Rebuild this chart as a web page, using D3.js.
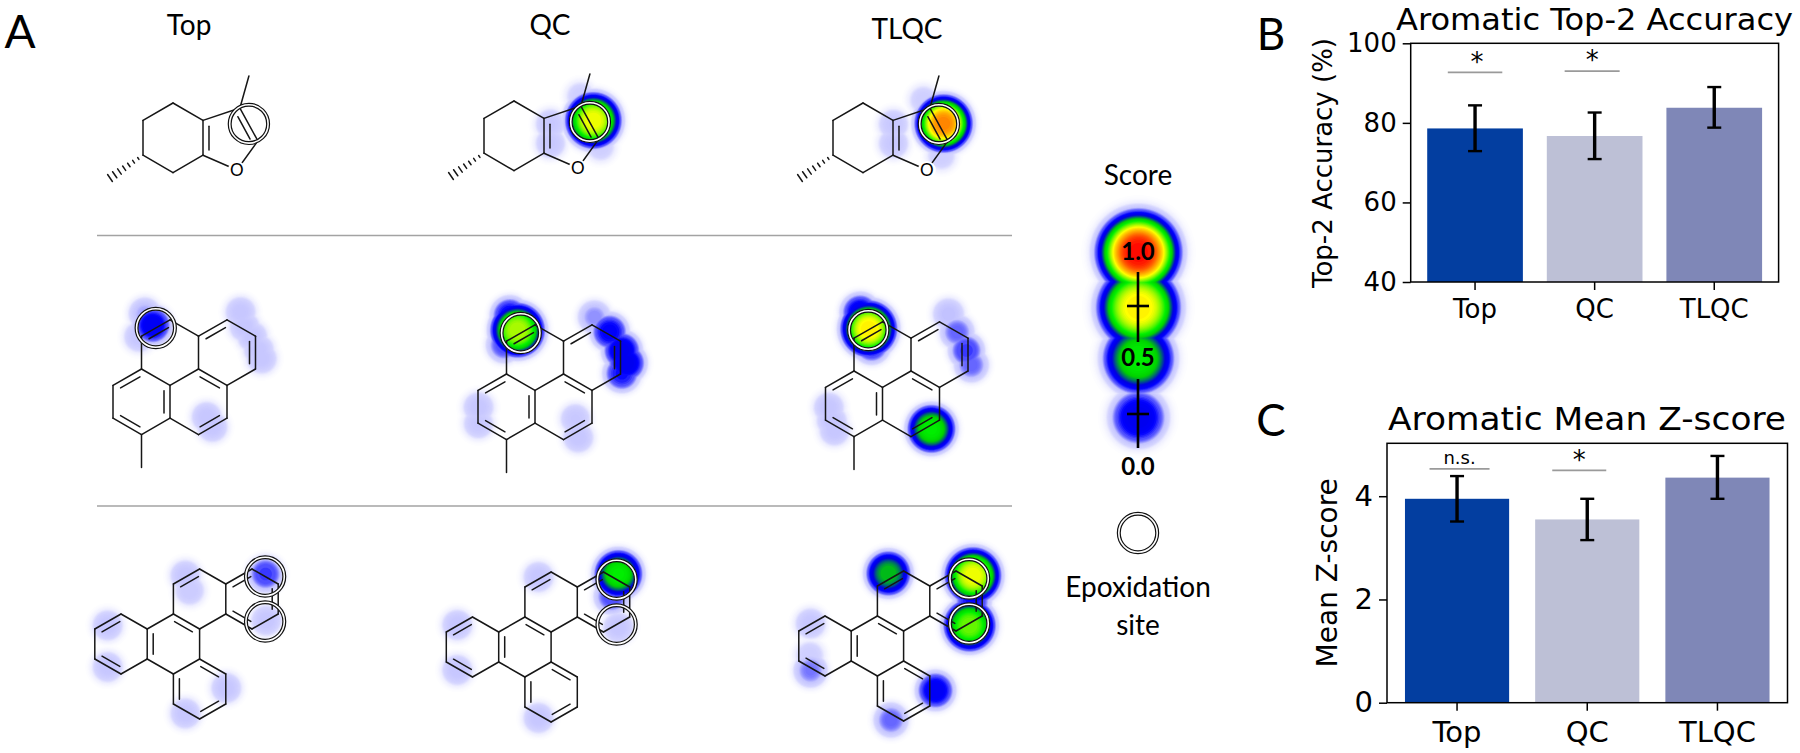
<!DOCTYPE html>
<html>
<head>
<meta charset="utf-8">
<script src="https://cdn.jsdelivr.net/npm/d3@7"></script>
<style>
  html, body { margin: 0; background: #fff; }
  svg { display: block; }
  .serif-free { font-family: Lato, "Open Sans", sans-serif; fill: #000; }
  .plot text { font-family: "DejaVu Sans", sans-serif; fill: #000; }
  .bond { stroke: #161616; stroke-width: 1.5; fill: none; stroke-linecap: round; }
</style>
</head>
<body>
<div id="chart"></div>
<script>
// bar chart values
var categories = ["Top", "QC", "TLQC"];
var accMean = [78.6, 76.7, 83.8];
var accLow = [72.9, 70.9, 78.8];
var accHigh = [84.4, 82.6, 89.0];
var accSig = [92.7, 93.0];
var zMean = [3.95, 3.55, 4.36];
var zLow = [3.51, 3.15, 3.95];
var zHigh = [4.39, 3.95, 4.78];
var zSig = [4.53, 4.50];
var accTicks = [40, 60, 80, 100];
var zTicks = [0, 2, 4];

// score legend
var legendScores = [1.0, 0.75, 0.5, 0.25];
var legendLabels = ["1.0", "0.5", "0.0"];

// molecules, in lattice units: [x1, y1, x2, y2]
var mol1Bonds = [[0,0,1,1],[1,1,1,3],[1,3,0,4],[0,4,-1,3],[-1,3,-1,1],[-1,1,0,0],
  [1,1,2.23,0.29],[2.23,0.29,2.83,2.18],[2.83,2.18,2.13,3.85],[2.13,3.85,1,3],[2.23,0.29,2.53,-1.55]];
var mol1Doubles = [[1,1,1,3,1.84,2.06],[2.23,0.29,2.83,2.18,1.84,2.06]];
var mol1Hash = [[-1,3,-2.1,4.31]];
var mol1Oxygen = [[2.13,3.85]];
var mol1Sites = [[2.53,1.2]];

var mol2Bonds = [[0,0,-1,1],[-1,1,-1,3],[-1,3,0,4],[0,4,1,3],[1,3,1,1],[1,1,0,0],
  [1,1,2,0],[2,0,3,1],[3,1,3,3],[3,3,2,4],[2,4,1,3],
  [0,0,0,-2],[0,-2,1,-3],[1,-3,2,-2],[2,-2,2,0],
  [2,-2,3,-3],[3,-3,4,-2],[4,-2,4,0],[4,0,3,1],[0,4,0,6]];
var mol2Doubles = [[0,0,-1,1,0,2],[-1,3,0,4,0,2],[1,3,1,1,0,2],[2,0,3,1,2,2],[3,3,2,4,2,2],
  [2,-2,3,-3,3,-1],[4,-2,4,0,3,-1],[0,-2,1,-3,1,-1]];
var mol2Sites = [[0.5,-2.5]];

var mol3Bonds = [[0,0,-1,1],[-1,1,-1,3],[-1,3,0,4],[0,4,1,3],[1,3,1,1],[1,1,0,0],
  [1,1,2,0],[2,0,3,1],[3,1,3,3],[3,3,2,4],[2,4,1,3],
  [3,3,4,4],[4,4,4,6],[4,6,3,7],[3,7,2,6],[2,6,2,4],
  [2,0,2,-2],[2,-2,3,-3],[3,-3,4,-2],[4,-2,4,0],[4,0,3,1],
  [4,-2,5,-3],[5,-3,6,-2],[6,-2,6,0],[6,0,5,1],[5,1,4,0]];
var mol3Doubles = [[0,0,-1,1,0,2],[-1,3,0,4,0,2],[1,1,1,3,2,2],[2,0,3,1,2,2],[2,-2,3,-3,3,-1],
  [4,-2,5,-3,5,-1],[6,-2,6,0,5,-1],[5,1,4,0,5,-1],[3,3,4,4,3,5],[4,6,3,7,3,5],[2,6,2,4,3,5]];
var mol3Sites = [[5.5,-2.5],[5.5,0.5]];

// heat spots: [x, y, score] in the same lattice units
var heat1Top = [];
var heat1QC = [[2.63,1.09,0.72],[1.2,1.3,0.085],[1.2,2.4,0.085],[2.87,2.6,0.07],[2.2,-0.3,0.07]];
var heat1TLQC = [[2.67,1.15,0.88],[1,1.2,0.085],[1,2.3,0.085],[2.6,3,0.07],[2,-0.2,0.07]];
var heat2Top = [[0.37,-2.7,0.24],[0.1,-3.4,0.11],[-0.1,-2,0.09],
  [3.46,-3.5,0.09],[3.6,-2.6,0.09],[3.87,-2,0.09],[4.1,-1.2,0.09],[4.2,-0.67,0.09],[2.47,3.5,0.09],[2.27,2.9,0.09]];
var heat2QC = [[0.37,-2.7,0.66],[0.1,-3.6,0.22],[-0.1,-1.8,0.16],
  [4.03,-1.46,0.25],[3.6,-2.6,0.22],[3.07,-3.5,0.12],[4.2,-0.7,0.25],[4.03,-0.06,0.2],
  [-1,2,0.09],[-1,3,0.085],[2.5,3.84,0.09],[2.4,2.7,0.085]];
var heat2TLQC = [[0.5,-2.6,0.75],[0.2,-3.6,0.24],[0.6,-1.6,0.2],
  [3.93,-1.28,0.17],[3.6,-2.4,0.14],[3.3,-3.5,0.1],[4.1,-0.4,0.14],
  [-0.9,2.2,0.09],[-0.8,3,0.09],[-0.7,3.6,0.09],[2.7,3.5,0.5]];
var heat3Top = [[5.5,-2.7,0.17],[5.53,0.4,0.09],[2.44,-2.6,0.09],[2.6,-1.6,0.08],
  [-0.53,0.73,0.09],[-0.53,3.5,0.09],[4,4.9,0.09],[2.44,6.6,0.09]];
var heat3QC = [[5.55,-2.9,0.5],[5.3,-1.4,0.16],[5.55,0.67,0.09],[2.5,-2.7,0.09],
  [-0.6,0.5,0.09],[-0.6,3.5,0.09],[2.5,6.7,0.09]];
var heat3TLQC = [[5.63,-2.73,0.72],[5.5,0.6,0.6],[5.6,-1,0.2],[2.4,-2.87,0.42],[-0.57,0.47,0.09],
  [-0.57,3.6,0.13],[4.2,4.93,0.24],[2.5,6.9,0.14],[-0.6,2.6,0.07]];

var svgWidth = 1800;
var svgHeight = 753;

var svg = d3.select("#chart")
  .append("svg")
  .attr("width", svgWidth)
  .attr("height", svgHeight);

var heatColor = d3.scaleLinear()
  .domain([0, 0.03, 0.05, 0.095, 0.13, 0.2, 0.28, 0.42, 0.5, 0.72, 0.86, 1])
  .range(["#ffffff", "#efefff", "#d6d6ff", "#c4c4ff", "#7070ff", "#0000ff", "#0000e0", "#00d000", "#00f000", "#ffff00", "#ff9000", "#ff0000"])
  .clamp(true);

var levels = d3.range(0.004, 0.15, 0.004).concat(d3.range(0.15, 1.0, 0.015));

// max of soft plateau falloffs, drawn with d3.contours
function drawHeat(parent, spots, xs, ys, sigma) {
  if (!spots.length) return;
  var pts = spots.map(d => [xs(d[0]), ys(d[1]), d[2]]);
  var x0 = Math.floor(d3.min(pts, d => d[0])) - 70;
  var y0 = Math.floor(d3.min(pts, d => d[1])) - 70;
  var w = Math.ceil(d3.max(pts, d => d[0])) + 70 - x0;
  var h = Math.ceil(d3.max(pts, d => d[1])) + 70 - y0;
  var values = new Float64Array(w * h);
  for (var j = 0; j < h; j++) {
    for (var i = 0; i < w; i++) {
      var best = 0;
      pts.forEach(function(p) {
        var dist = Math.hypot(i + x0 - p[0], j + y0 - p[1]);
        // weak spots stay smaller than strong ones
        var s = sigma * (0.7 + 0.4 * Math.min(p[2] / 0.7, 1));
        var v = p[2] * Math.exp(-Math.pow(dist / s, 3.5));
        if (v > best) best = v;
      });
      values[j * w + i] = best;
    }
  }
  var contours = d3.contours().size([w, h]).thresholds(levels)(values);
  parent.append("g")
    .attr("transform", `translate(${x0}, ${y0})`)
    .selectAll("path")
    .data(contours)
    .enter()
    .append("path")
    .attr("d", d3.geoPath())
    .attr("fill", d => heatColor(d.value));
}

function drawSite(parent, cx, cy) {
  parent.append("circle").attr("cx", cx).attr("cy", cy).attr("r", 19.2)
    .attr("fill", "none").attr("stroke", "#fff").attr("stroke-width", 3);
  parent.append("circle").attr("cx", cx).attr("cy", cy).attr("r", 20.6)
    .attr("fill", "none").attr("stroke", "#111").attr("stroke-width", 1.2);
  parent.append("circle").attr("cx", cx).attr("cy", cy).attr("r", 17.8)
    .attr("fill", "none").attr("stroke", "#111").attr("stroke-width", 1.2);
}

function drawMolecule(mol, ox, oy, spots) {
  var xs = d3.scaleLinear().domain([0, 1]).range([ox, ox + mol.sx]);
  var ys = d3.scaleLinear().domain([0, 1]).range([oy, oy + mol.sy]);
  var g = svg.append("g");

  drawHeat(g, spots, xs, ys, 21.5);

  g.selectAll("line.b")
    .data(mol.bonds)
    .enter()
    .append("line")
    .attr("class", "bond")
    .attr("x1", d => xs(d[0]))
    .attr("y1", d => ys(d[1]))
    .attr("x2", d => xs(d[2]))
    .attr("y2", d => ys(d[3]));

  // inner stroke of each double bond, pushed toward the ring centre
  mol.doubles.forEach(function(d) {
    var ax = xs(d[0]), ay = ys(d[1]), bx = xs(d[2]), by = ys(d[3]);
    var mx = (ax + bx) / 2, my = (ay + by) / 2;
    var vx = xs(d[4]) - mx, vy = ys(d[5]) - my;
    var len = Math.hypot(vx, vy);
    var off = 6;
    g.append("line")
      .attr("class", "bond")
      .attr("x1", ax + (bx - ax) * 0.16 + vx / len * off)
      .attr("y1", ay + (by - ay) * 0.16 + vy / len * off)
      .attr("x2", bx - (bx - ax) * 0.16 + vx / len * off)
      .attr("y2", by - (by - ay) * 0.16 + vy / len * off);
  });

  (mol.hash || []).forEach(function(d) {
    var ax = xs(d[0]), ay = ys(d[1]), bx = xs(d[2]), by = ys(d[3]);
    var len = Math.hypot(bx - ax, by - ay);
    var nx = -(by - ay) / len, ny = (bx - ax) / len;
    d3.range(1, 8).forEach(function(k) {
      var t = k / 7, half = 0.6 + t * 3.6;
      var px = ax + (bx - ax) * t, py = ay + (by - ay) * t;
      g.append("line").attr("class", "bond")
        .attr("stroke-linecap", "butt")
        .attr("x1", px - nx * half).attr("y1", py - ny * half)
        .attr("x2", px + nx * half).attr("y2", py + ny * half);
    });
  });

  (mol.oxygen || []).forEach(function(d) {
    g.append("circle")
      .attr("cx", xs(d[0])).attr("cy", ys(d[1])).attr("r", 9)
      .attr("fill", "#fff");
    g.append("text")
      .attr("class", "serif-free")
      .attr("x", xs(d[0]))
      .attr("y", ys(d[1]) + 6)
      .attr("text-anchor", "middle")
      .attr("font-size", 17)
      .text("O");
  });

  mol.sites.forEach(d => drawSite(g, xs(d[0]), ys(d[1])));
}

var mol1 = { bonds: mol1Bonds, doubles: mol1Doubles, hash: mol1Hash, oxygen: mol1Oxygen, sites: mol1Sites, sx: 30, sy: 17.4 };
var mol2 = { bonds: mol2Bonds, doubles: mol2Doubles, sites: mol2Sites, sx: 28.5, sy: 16.4 };
var mol3 = { bonds: mol3Bonds, doubles: mol3Doubles, sites: mol3Sites, sx: 26.2, sy: 15 };

drawMolecule(mol1, 173, 103, heat1Top);
drawMolecule(mol1, 514, 101, heat1QC);
drawMolecule(mol1, 863, 103, heat1TLQC);
drawMolecule(mol2, 141.5, 369, heat2Top);
drawMolecule(mol2, 506.5, 374, heat2QC);
drawMolecule(mol2, 854, 371, heat2TLQC);
drawMolecule(mol3, 121, 614, heat3Top);
drawMolecule(mol3, 472.5, 617, heat3QC);
drawMolecule(mol3, 825, 616, heat3TLQC);

function label(txt, x, y, size, weight) {
  return svg.append("text")
    .attr("class", "serif-free")
    .attr("x", x)
    .attr("y", y)
    .attr("text-anchor", "middle")
    .attr("font-size", size)
    .attr("font-weight", weight || 400)
    .text(txt);
}

label("A", 20, 48, 46);
label("B", 1271, 50, 44);
label("C", 1271, 436, 44);
label(categories[0], 189, 35, 28);
label(categories[1], 550, 35, 28);
label(categories[2], 907, 39, 28);

// row dividers
[235.5, 506].forEach(function(y) {
  svg.append("line")
    .attr("x1", 97).attr("x2", 1012)
    .attr("y1", y).attr("y2", y)
    .attr("stroke", "#a3a3a3").attr("stroke-width", 1.6);
});

// score legend
var legendG = svg.append("g");
drawHeat(legendG, legendScores.map((s, i) => [0, [252, 307, 358, 417][i], s]),
  d3.scaleLinear().domain([0, 1]).range([1138, 1139]),
  d3.scaleLinear().domain([0, 1]).range([0, 1]), 32);

[[272, 342, 306], [379, 448, 414]].forEach(function(seg) {
  legendG.append("line").attr("x1", 1138).attr("x2", 1138).attr("y1", seg[0]).attr("y2", seg[1])
    .attr("stroke", "#000").attr("stroke-width", 2.6);
  legendG.append("line").attr("x1", 1127).attr("x2", 1149).attr("y1", seg[2]).attr("y2", seg[2])
    .attr("stroke", "#000").attr("stroke-width", 2.6);
});

label("Score", 1138, 185, 28);
label(legendLabels[0], 1138, 260, 24, 700);
label(legendLabels[1], 1138, 366, 24, 700);
label(legendLabels[2], 1138, 475, 24, 700);
drawSite(svg, 1138, 533);
label("Epoxidation", 1138, 597, 28);
label("site", 1138, 635, 28);

// bar panels
function barPanel(opt) {
  var x = d3.scaleBand()
    .domain(categories)
    .range([opt.left, opt.right])
    .paddingInner(0.2)
    .paddingOuter(0.138);
  var y = d3.scaleLinear()
    .domain(opt.domain)
    .range([opt.bottom, opt.top]);

  var g = svg.append("g").attr("class", "plot");
  var colors = ["#033ea0", "#bdc0d6", "#7f87b7"];

  g.selectAll("rect.bar")
    .data(categories)
    .enter()
    .append("rect")
    .attr("class", "bar")
    .attr("x", d => x(d))
    .attr("width", x.bandwidth())
    .attr("y", (d, i) => y(opt.mean[i]))
    .attr("height", (d, i) => opt.bottom - y(opt.mean[i]))
    .attr("fill", (d, i) => colors[i]);

  categories.forEach(function(c, i) {
    var cx = x(c) + x.bandwidth() / 2;
    g.append("line").attr("x1", cx).attr("x2", cx)
      .attr("y1", y(opt.low[i])).attr("y2", y(opt.high[i]))
      .attr("stroke", "#000").attr("stroke-width", 3.4);
    [opt.low[i], opt.high[i]].forEach(function(v) {
      g.append("line").attr("x1", cx - 7).attr("x2", cx + 7)
        .attr("y1", y(v)).attr("y2", y(v))
        .attr("stroke", "#000").attr("stroke-width", 2.4);
    });
  });

  opt.sig.forEach(function(v, i) {
    var cx = x(categories[i]) + x.bandwidth() / 2 + opt.sigShift[i];
    g.append("line").attr("x1", cx - opt.sigWidth[i] / 2).attr("x2", cx + opt.sigWidth[i] / 2)
      .attr("y1", y(v)).attr("y2", y(v))
      .attr("stroke", "#9a9a9a").attr("stroke-width", 1.8);
    g.append("text")
      .attr("x", cx + opt.sigTextShift[i])
      .attr("y", y(v) + opt.sigTextY[i])
      .attr("text-anchor", "middle")
      .attr("font-size", opt.sigText[i] === "*" ? 26 : 18)
      .text(opt.sigText[i]);
  });

  // spines
  g.append("rect")
    .attr("x", opt.left).attr("y", opt.top)
    .attr("width", opt.right - opt.left).attr("height", opt.bottom - opt.top)
    .attr("fill", "none").attr("stroke", "#000").attr("stroke-width", 1.5);

  var leftAxis = d3.axisLeft(y).tickValues(opt.ticks).tickFormat(d3.format("d")).tickSize(8).tickPadding(6);
  var bottomAxis = d3.axisBottom(x).tickSize(8).tickPadding(opt.xPad);

  var ya = g.append("g").attr("transform", `translate(${opt.left}, 0)`).call(leftAxis);
  var xa = g.append("g").attr("transform", `translate(0, ${opt.bottom})`).call(bottomAxis);
  ya.select(".domain").remove();
  xa.select(".domain").remove();
  ya.selectAll("text").attr("font-size", opt.tickSize).attr("font-family", "DejaVu Sans");
  xa.selectAll("text").attr("font-size", opt.tickSize).attr("font-family", "DejaVu Sans");
  ya.selectAll("line").attr("stroke-width", 1.5);
  xa.selectAll("line").attr("stroke-width", 1.5);

  g.append("text")
    .attr("transform", `translate(${opt.ylabelX}, ${opt.ylabelY}) rotate(-90)`)
    .attr("text-anchor", "middle")
    .attr("font-size", opt.ylabelSize)
    .text(opt.ylabel);

  g.append("text")
    .attr("x", opt.titleX)
    .attr("y", opt.titleY)
    .attr("text-anchor", "middle")
    .attr("font-size", opt.titleSize)
    .attr("textLength", opt.titleWidth)
    .attr("lengthAdjust", "spacingAndGlyphs")
    .text(opt.title);
}

barPanel({
  left: 1410.7, right: 1778.6, top: 43.3, bottom: 282,
  domain: [40, 100], ticks: accTicks,
  mean: accMean, low: accLow, high: accHigh,
  sig: accSig, sigText: ["*", "*"], sigShift: [0, -2.5], sigWidth: [54.5, 55],
  sigTextShift: [2, 0], sigTextY: [-1, -2],
  tickSize: 26, xPad: 9.5,
  ylabel: "Top-2 Accuracy (%)", ylabelX: 1332, ylabelY: 163, ylabelSize: 26,
  title: "Aromatic Top-2 Accuracy", titleX: 1594.5, titleY: 30, titleSize: 30, titleWidth: 397
});

barPanel({
  left: 1387, right: 1787.5, top: 443.3, bottom: 702.7,
  domain: [0, 5.025], ticks: zTicks,
  mean: zMean, low: zLow, high: zHigh,
  sig: zSig, sigText: ["n.s.", "*"], sigShift: [2.5, -8], sigWidth: [60, 54],
  sigTextShift: [0, 0], sigTextY: [-4.5, -1],
  tickSize: 29, xPad: 10.4,
  ylabel: "Mean Z-score", ylabelX: 1337, ylabelY: 572.8, ylabelSize: 28,
  title: "Aromatic Mean Z-score", titleX: 1587, titleY: 430, titleSize: 32, titleWidth: 398
});
</script>
</body>
</html>
